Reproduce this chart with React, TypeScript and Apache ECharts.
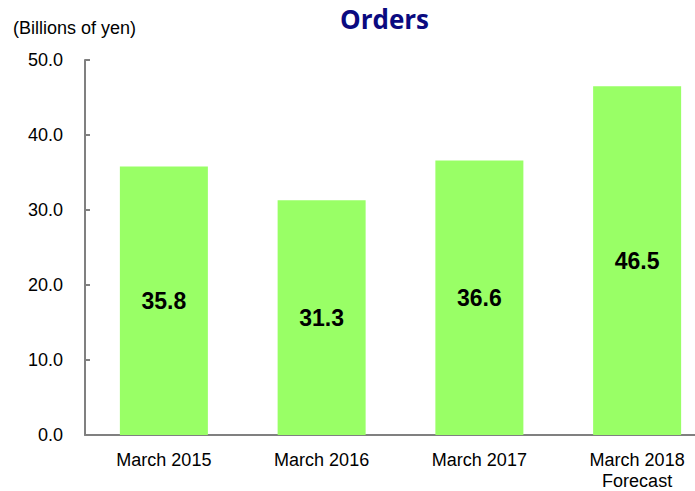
import React, { useEffect, useRef } from "react";
import * as echarts from "echarts";

const categories = ["March 2015", "March 2016", "March 2017", "March 2018\nForecast"];
const orders = [35.8, 31.3, 36.6, 46.5];
const yTicks = { min: 0, max: 50, interval: 10 };

export default function App() {
  const ref = useRef<HTMLDivElement>(null);
  useEffect(() => {
    if (!ref.current) return;
    const chart = echarts.init(ref.current, null, { renderer: "svg" });
    chart.setOption({
      animation: false,
      title: [
        {
          text: "Orders",
          left: 335,
          top: 1,
          textStyle: { fontFamily: "Open Sans", fontWeight: "bold", fontSize: 26, color: "#0a0a80" },
        },
        {
          text: "(Billions of yen)",
          left: 8,
          top: 14,
          textStyle: { fontFamily: "Liberation Sans", fontWeight: "normal", fontSize: 18, color: "#000" },
        },
      ],
      grid: { left: 85, width: 631, top: 60, bottom: 56, containLabel: false, outerBoundsMode: "none" },
      xAxis: {
        type: "category",
        data: categories,
        axisLine: { lineStyle: { color: "#808080", width: 2 } },
        axisTick: { show: false },
        axisLabel: {
          color: "#000",
          fontFamily: "Liberation Sans",
          fontSize: 18,
          lineHeight: 21,
          margin: 14,
        },
      },
      yAxis: {
        type: "value",
        min: yTicks.min,
        max: yTicks.max,
        interval: yTicks.interval,
        axisLine: { show: true, lineStyle: { color: "#808080", width: 2 } },
        axisTick: { show: true, inside: true, length: 5, lineStyle: { color: "#808080", width: 2 } },
        splitLine: { show: false },
        axisLabel: {
          color: "#000",
          fontFamily: "Liberation Sans",
          fontSize: 18,
          margin: 22,
          formatter: (v: number) => v.toFixed(1),
        },
      },
      series: [
        {
          type: "bar",
          data: orders,
          barWidth: 88,
          itemStyle: { color: "#99ff66" },
          label: {
            show: true,
            position: "inside",
            color: "#000",
            fontFamily: "Liberation Sans",
            fontWeight: "bold",
            fontSize: 23,
            formatter: (p: any) => p.value.toFixed(1),
          },
        },
      ],
    });
    return () => chart.dispose();
  }, []);
  return <div ref={ref} style={{ width: 695, height: 491, position: "absolute", left: 0, top: 0 }} />;
}
